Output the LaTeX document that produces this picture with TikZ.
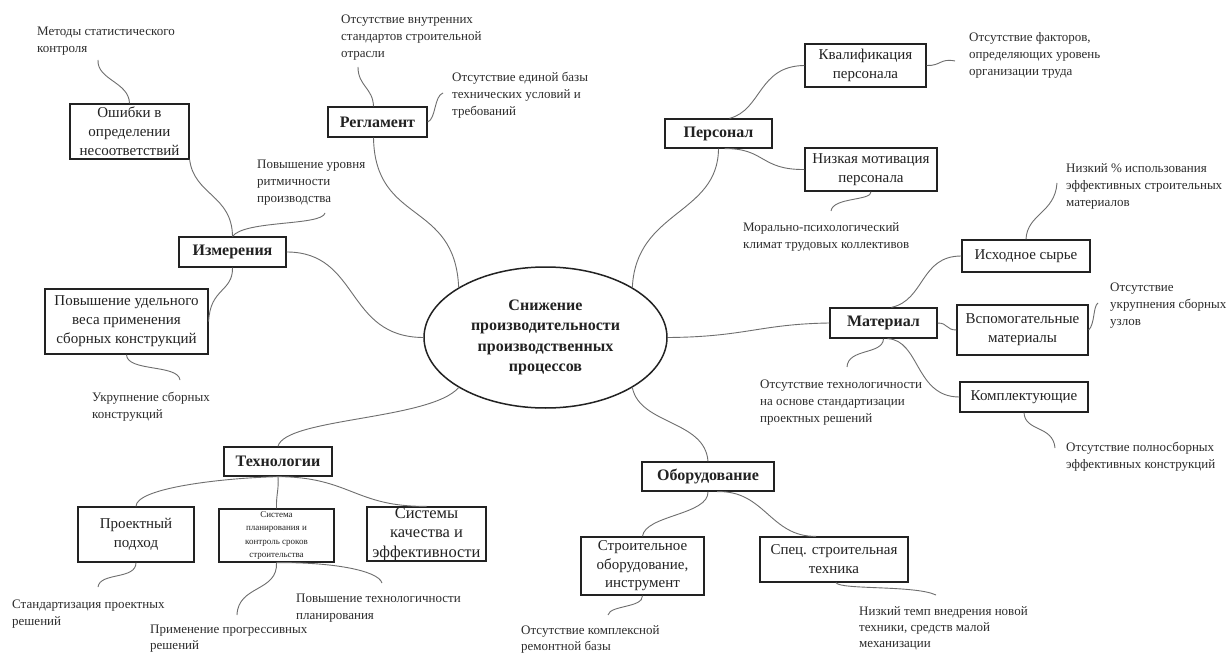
\documentclass[tikz,border=0pt]{standalone}
\usepackage{fontspec}
\setmainfont{Liberation Serif}
\usetikzlibrary{shapes.geometric}

\definecolor{ink}{HTML}{222222}
\definecolor{noteink}{HTML}{2C2C2C}
\definecolor{wire}{HTML}{6E6E6E}

\tikzset{
  box/.style={draw=ink, line width=1.3pt, rectangle, inner sep=0pt, align=center,
    text=ink, font=\fontsize{15}{19}\selectfont},
  head/.style={box, font=\fontsize{16}{19}\selectfont\bfseries},
  note/.style={anchor=north west, inner sep=0pt, align=left, text=noteink, yshift=-3pt,
    font=\fontsize{13}{17}\selectfont},
  lownote/.style={note, font=\fontsize{13}{16}\selectfont},
  link/.style={draw=wire, line width=0.9pt},
}

\begin{document}
\begin{tikzpicture}[x=1pt, y=-1pt]
\path[use as bounding box, fill=white] (0,0) rectangle (1229,655);

% central problem
\node[draw=ink, line width=1.5pt, ellipse, minimum width=243, minimum height=141,
  inner sep=0pt, align=center, text=ink, font=\fontsize{16}{20.5}\selectfont\bfseries]
  (core) at (545.5,337.5) {Снижение\\производительности\\производственных\\процессов};

% ---------- Измерения ----------
\node[head, minimum width=107, minimum height=30] (izm) at (232.5,252) {Измерения};
\node[box, minimum width=119, minimum height=55] (osh) at (129.5,131.5) {Ошибки в\\определении\\несоответствий};
\node[box, minimum width=163, minimum height=65] (udel) at (126.5,321.5) {Повышение удельного\\веса применения\\сборных конструкций};
\node[note] (nmet) at (37,24) {Методы статистического\\контроля};
\node[note] (nritm) at (257,157) {Повышение уровня\\ритмичности\\производства};
\node[note] (nukr) at (92,389) {Укрупнение сборных\\конструкций};

\coordinate (pmet) at (98,60);
\coordinate (pritm) at (325,213);
\coordinate (pukr) at (180,380);
\draw[link] (pmet) .. controls (97,80) and (129,82) .. (osh.north);
\draw[link] (osh.south east) .. controls (194,195) and (232,195) .. (izm.north);
\draw[link] (pritm) .. controls (322,226) and (245,220) .. (izm.north);
\draw[link] (izm.east) .. controls (360,252) and (345,337) .. (core.west);
\draw[link] (izm.south) .. controls (233,292) and (210,288) .. (udel.east);
\draw[link] (udel.south) .. controls (127,372) and (178,364) .. (pukr);

% ---------- Регламент ----------
\node[head, minimum width=99, minimum height=30] (regl) at (377.5,122) {Регламент};
\node[note] (nvn) at (341,12) {Отсутствие внутренних\\стандартов строительной\\отрасли};
\node[note] (ned) at (452,69) {Отсутствие единой базы\\технических условий и\\требований};

\coordinate (pvn) at (358,67);
\coordinate (ped) at (443,93);
\draw[link] (pvn) .. controls (358,86) and (373,88) .. ([xshift=-4pt]regl.north);
\draw[link] (regl.east) .. controls (436,119) and (434,96) .. (ped);
\draw[link] ([xshift=-4pt]regl.south) .. controls (375,225) and (455,200) .. (core.150);

% ---------- Персонал ----------
\node[head, minimum width=107, minimum height=29] (pers) at (718.5,133.5) {Персонал};
\node[box, minimum width=121, minimum height=43] (kval) at (865.5,65.5) {Квалификация\\персонала};
\node[box, minimum width=132, minimum height=43] (motiv) at (871,169.5) {Низкая мотивация\\персонала};
\node[note] (nfak) at (969,29) {Отсутствие факторов,\\определяющих уровень\\организации труда};
\node[note] (nmor) at (743,219) {Морально-психологический\\климат трудовых коллективов};

\coordinate (pfak) at (955,61);
\coordinate (pmor) at (831,211);
\draw[link] ([xshift=11pt]pers.north) .. controls (762,110) and (758,66) .. (kval.west);
\draw[link] (kval.east) .. controls (941,66) and (940,58) .. (pfak);
\draw[link] ([xshift=6pt]pers.south) .. controls (765,148) and (760,170) .. (motiv.west);
\draw[link] (motiv.south) .. controls (872,201) and (833,197) .. (pmor);
\draw[link] (pers.south) .. controls (718,215) and (636,210) .. (core.30);

% ---------- Материал ----------
\node[head, minimum width=107, minimum height=30] (mat) at (883.5,323) {Материал};
\node[box, minimum width=128, minimum height=32] (syr) at (1026,256) {Исходное сырье};
\node[box, minimum width=131, minimum height=50] (vsp) at (1022.5,330) {Вспомогательные\\материалы};
\node[box, minimum width=128, minimum height=30] (kom) at (1024,397) {Комплектующие};
\node[note] (nniz) at (1066,160) {Низкий \% использования\\эффективных строительных\\материалов};
\node[note] (nuzl) at (1110,280) {Отсутствие\\укрупнения сборных\\узлов};
\node[note] (ntex) at (760,377) {Отсутствие технологичности\\на основе стандартизации\\проектных решений};
\node[note] (npol) at (1066,439) {Отсутствие полносборных\\эффективных конструкций};

\coordinate (pniz) at (1057,183);
\coordinate (puzl) at (1098,303);
\coordinate (ppol) at (1055,448);
\coordinate (ptex) at (847,367);
\draw[link] (core.east) .. controls (745,337) and (760,324) .. (mat.west);
\draw[link] ([xshift=8pt]mat.north) .. controls (925,300) and (920,256) .. (syr.west);
\draw[link] (syr.north) .. controls (1027,214) and (1055,213) .. (pniz);
\draw[link] (mat.east) .. controls (948,323) and (946,330) .. (vsp.west);
\draw[link] (vsp.east) .. controls (1095,324) and (1093,306) .. (puzl);
\draw[link] ([xshift=4pt]mat.south) .. controls (920,340) and (915,397) .. (kom.west);
\draw[link] (kom.south) .. controls (1025,432) and (1053,425) .. (ppol);
\draw[link] (mat.south) .. controls (883,355) and (848,348) .. (ptex);

% ---------- Технологии ----------
\node[head, minimum width=108, minimum height=29] (tech) at (278,461.5) {Технологии};
\node[box, minimum width=116, minimum height=55] (proj) at (136,534.5) {Проектный\\подход};
\node[box, minimum width=115, minimum height=53, font=\fontsize{9}{13.3}\selectfont] (plan) at (276.5,535.5) {Система\\планирования и\\контроль сроков\\строительства};
\node[box, minimum width=119, minimum height=54, font=\fontsize{16.5}{19.5}\selectfont] (qual) at (426.5,534) {Системы\\качества и\\эффективности};
\node[note] (nst) at (12,597) {Стандартизация проектных\\решений};
\node[note] (npt) at (296,591) {Повышение технологичности\\планирования};
\node[lownote] (npr) at (150,622) {Применение прогрессивных\\решений};

\coordinate (pst) at (98,587);
\coordinate (ppr) at (237,615);
\coordinate (ppt) at (382,583);
\draw[link] (core.210) .. controls (430,420) and (285,418) .. (tech.north);
\draw[link] (tech.south) .. controls (222,478) and (136,488) .. (proj.north);
\draw[link] (tech.south) .. controls (279,490) and (276,495) .. (plan.north);
\draw[link] (tech.south) .. controls (350,477) and (355,507) .. (qual.north);
\draw[link] (proj.south) .. controls (136,580) and (100,572) .. (pst);
\draw[link] (plan.south) .. controls (278,592) and (238,585) .. (ppr);
\draw[link] (plan.south) .. controls (330,562) and (378,570) .. (ppt);

% ---------- Оборудование ----------
\node[head, minimum width=132, minimum height=29] (obor) at (708,476.5) {Оборудование};
\node[box, minimum width=123, minimum height=58, font=\fontsize{15}{18.5}\selectfont] (stro) at (642.5,566) {Строительное\\оборудование,\\инструмент};
\node[box, minimum width=148, minimum height=45] (spec) at (834,559.5) {Спец. строительная\\техника};
\node[lownote] (nrem) at (521,622) {Отсутствие комплексной\\ремонтной базы};
\node[lownote] (ntemp) at (859,603) {Низкий темп внедрения новой\\техники, средств малой\\механизации};

\coordinate (prem) at (608,615);
\coordinate (ptemp) at (936,595);
\draw[link] (core.330) .. controls (640,425) and (705,420) .. (obor.north);
\draw[link] (obor.south) .. controls (709,515) and (645,515) .. (stro.north);
\draw[link] ([xshift=9pt]obor.south) .. controls (765,490) and (770,537) .. ([xshift=-18pt]spec.north);
\draw[link] (stro.south) .. controls (643,608) and (610,605) .. (prem);
\draw[link] ([xshift=2pt]spec.south) .. controls (840,590) and (915,585) .. (ptemp);
\end{tikzpicture}
\end{document}
